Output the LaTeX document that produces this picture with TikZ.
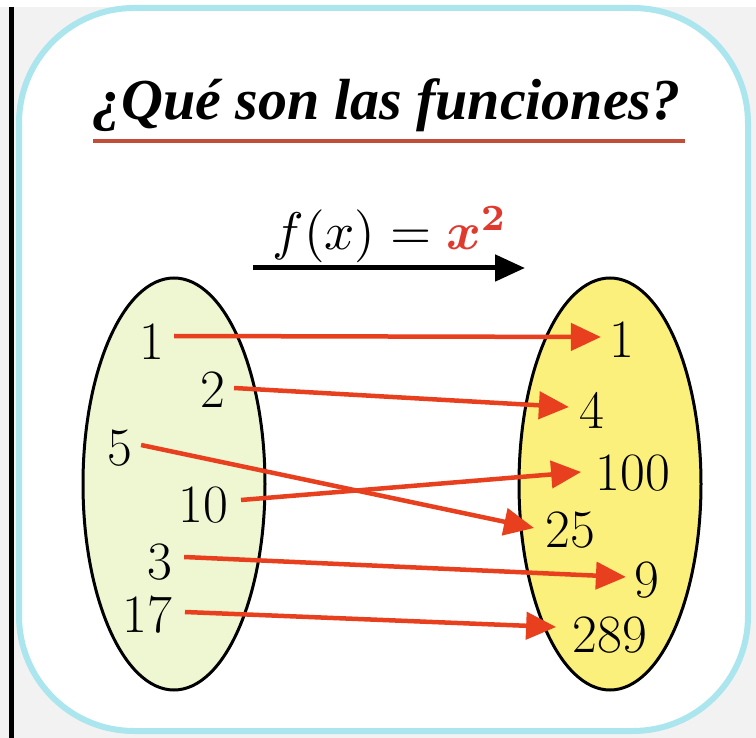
\documentclass[tikz,border=0pt]{standalone}
\usepackage{graphicx}
\usepackage{fontspec}
\usepackage{bm}
\newfontfamily\titlefont{Liberation Serif}
\usetikzlibrary{arrows.meta,shapes.geometric}
\definecolor{bgray}{HTML}{F2F2F2}
\definecolor{cyanb}{HTML}{ABE5EE}
\definecolor{lgreen}{HTML}{EFF6D2}
\definecolor{lyellow}{HTML}{FCF07C}
\definecolor{ulred}{HTML}{C24E3A}
\definecolor{arred}{HTML}{E8401E}
\definecolor{redx}{HTML}{E03A2E}
\tikzset{
  num/.style={font=\fontsize{54}{54}\selectfont, inner sep=0pt},
  setbox/.style={draw=black, line width=3pt, ellipse, inner sep=0pt, minimum width=182pt, minimum height=412pt},
  rarr/.style={draw=arred, line width=4.5pt, -{Triangle[length=30pt,width=27pt]}},
  barr/.style={draw=black, line width=5pt, -{Triangle[length=30pt,width=26pt]}},
}
\begin{document}
\begin{tikzpicture}[x=1pt,y=-1pt]
\useasboundingbox (0,0) rectangle (756,738);
\fill[bgray] (0,0) rectangle (756,738);
\fill[white] (0,0) rectangle (756,7);
\draw[cyanb, line width=6pt, fill=white, rounded corners=115pt] (19,8) rectangle (748,731);
\fill[black] (9,7) rectangle (14,738);

% title
\node[anchor=base, inner sep=0pt] (title) at (386.5,120)
  {\resizebox{588pt}{!}{\titlefont\bfseries\itshape ¿Qué son las funciones?}};
\coordinate (uA) at (93,141);
\coordinate (uB) at (685,141);
\draw[ulred, line width=4pt] (uA) -- (uB);

% formula
\node[anchor=base, inner sep=0pt] (fx) at (390,250)
  {\resizebox{235pt}{!}{$f(x) = \textcolor{redx}{\bm{x}^{\bm{2}}}$}};
\coordinate (bA) at (253,268);
\coordinate (bB) at (525,268);
\draw[barr] (bA) -- (bB);

% sets
\node[setbox, fill=lgreen] (L) at (174,484) {};
\node[setbox, fill=lyellow] (R) at (610,484) {};

% left labels
\node[num] (l1) at (152,342) {1};
\node[num] (l2) at (213,390) {2};
\node[num] (l5) at (120,448) {5};
\node[num] (l10) at (203,505) {10};
\node[num] (l3) at (160,562) {3};
\node[num] (l17) at (147,615) {17};

% right labels
\node[num] (r1) at (622,340) {1};
\node[num] (r4) at (592,410) {4};
\node[num] (r100) at (633,473) {100};
\node[num] (r25) at (570,530) {25};
\node[num] (r9) at (647,580) {9};
\node[num] (r289) at (610,635) {289};

% mapping arrows
\draw[rarr] ([xshift=9.5pt,yshift=6pt]l1.east) -- ([xshift=-8.5pt,yshift=3pt]r1.west);
\draw[rarr] ([xshift=8.5pt,yshift=2pt]l2.east) -- ([xshift=-10.5pt,yshift=3pt]r4.west);
\draw[rarr] ([xshift=8.5pt,yshift=3pt]l5.east) -- ([xshift=-11pt,yshift=2pt]r25.west);
\draw[rarr] ([xshift=13pt,yshift=5pt]l10.east) -- ([xshift=-14.5pt,yshift=1pt]r100.west);
\draw[rarr] ([xshift=11.5pt,yshift=5pt]l3.east) -- ([xshift=-8.5pt,yshift=3pt]r9.west);
\draw[rarr] ([xshift=13pt,yshift=3pt]l17.east) -- ([xshift=-16.5pt,yshift=8pt]r289.west);
\end{tikzpicture}
\end{document}
